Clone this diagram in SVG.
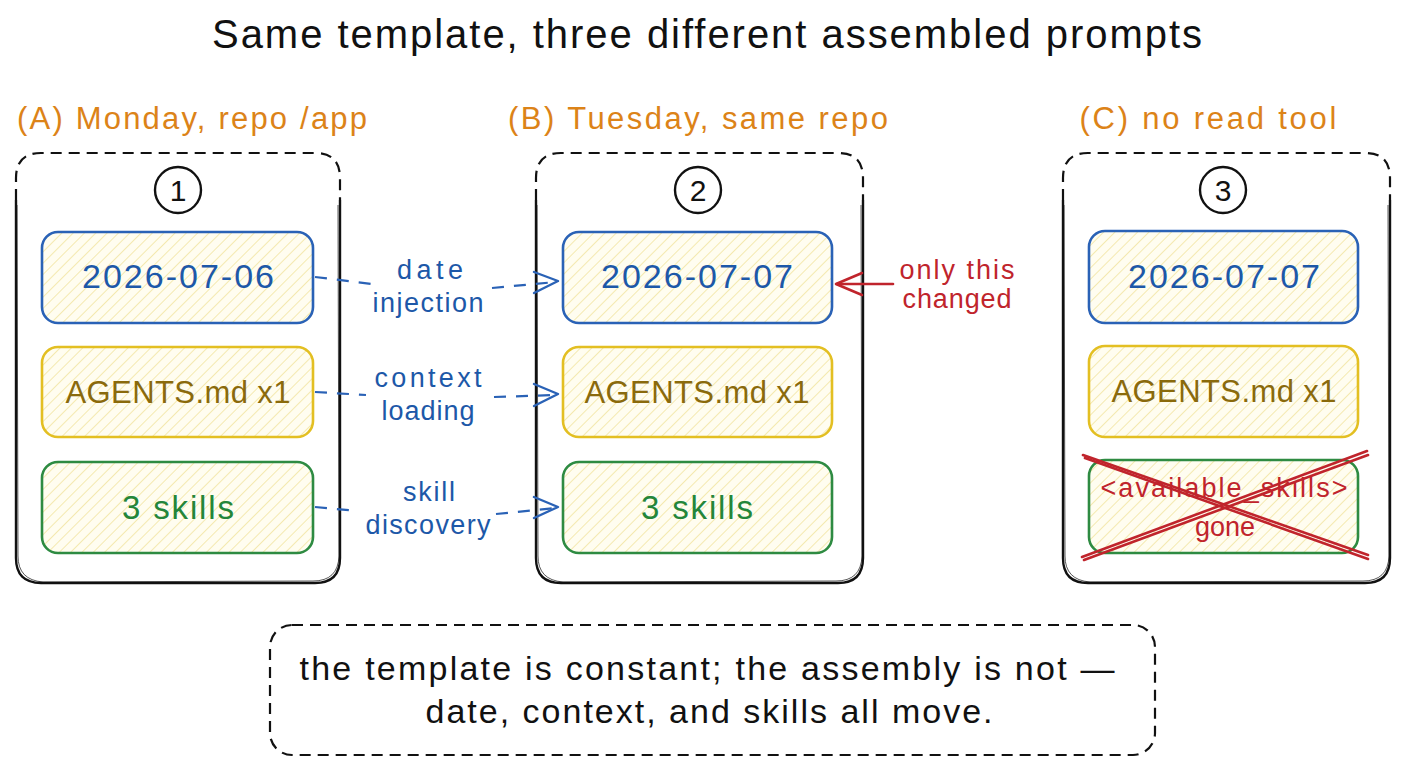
<svg xmlns="http://www.w3.org/2000/svg" width="1408" height="768" viewBox="0 0 1408 768">
<style>
.hand{font-family:"Liberation Sans","DejaVu Sans",sans-serif;}
.title{font-size:40px;fill:#111;}
.hdr{font-size:31px;fill:#dc8318;}
.num{font-size:30px;fill:#111;}
.date{font-size:34px;fill:#1d58a8;}
.agents{font-size:31px;fill:#8a6a0c;}
.skills{font-size:33px;fill:#24863a;}
.conn{font-size:27px;fill:#1d58a8;}
.red{font-size:27px;fill:#c0242c;}
.note{font-size:34px;fill:#111;}
.dash{fill:none;stroke:#111;stroke-width:2.2;stroke-dasharray:11 7;}
.solid{fill:none;stroke:#111;stroke-width:2.4;}
.solid2{fill:none;stroke:#111;stroke-width:1;opacity:.7;}
.bbox{stroke:#2a62b6;stroke-width:2.6;fill:url(#hatch);}
.ybox{stroke:#e3bf22;stroke-width:2.6;fill:url(#hatch);}
.gbox{stroke:#2e8b42;stroke-width:2.6;fill:url(#hatch);}
.edge{fill:none;stroke:#2a62b6;stroke-width:2.2;stroke-dasharray:12 10;}
.head{fill:none;stroke:#2a62b6;stroke-width:2.4;stroke-linecap:round;stroke-linejoin:round;}
.rline{fill:none;stroke:#c0242c;stroke-width:2.6;stroke-linecap:round;stroke-linejoin:round;}
.circ{fill:#fff;stroke:#111;stroke-width:2.4;}
</style>
<defs>
<pattern id="hatch" width="8" height="8" patternUnits="userSpaceOnUse" patternTransform="rotate(45)">
<rect width="8" height="8" fill="#fffdf0"/>
<line x1="0" y1="0" x2="0" y2="8" stroke="#f2e4a0" stroke-width="1.6"/>
</pattern>
</defs>
<rect width="1408" height="768" fill="#fff"/>

<text class="hand title" x="707" y="48" text-anchor="middle" textLength="990">Same template, three different assembled prompts</text>

<g id="panel-a">
<text class="hand hdr" x="192" y="129" text-anchor="middle" textLength="350">(A) Monday, repo /app</text>
<path class="dash" d="M16,200 L16,178 Q16,153 41,153 L315,153 Q340,153 340,178 L340,200"/>
<path class="solid" d="M340,200 L340,558 Q340,583 315,583 L41,583 Q16,583 16,558 L16,200"/>
<path class="solid2" d="M338,205 L339,556 Q338,581 313,581 L43,582 Q18,580 18,556 L17,205"/>
<circle class="circ" cx="178" cy="190" r="23"/>
<text class="hand num" x="178" y="201" text-anchor="middle">1</text>
</g>
<g id="a-date"><rect class="bbox" x="42" y="232" width="271" height="91" rx="16"/><text class="hand date" x="178" y="288" text-anchor="middle" textLength="192">2026-07-06</text></g>
<g id="a-agents"><rect class="ybox" x="42" y="347" width="271" height="90" rx="16"/><text class="hand agents" x="178" y="403" text-anchor="middle" textLength="225">AGENTS.md x1</text></g>
<g id="a-skills"><rect class="gbox" x="42" y="462" width="271" height="91" rx="16"/><text class="hand skills" x="178" y="519" text-anchor="middle" textLength="112">3 skills</text></g>

<g id="panel-b">
<text class="hand hdr" x="698" y="129" text-anchor="middle" textLength="380">(B) Tuesday, same repo</text>
<path class="dash" d="M536,200 L536,178 Q536,153 561,153 L838,153 Q863,153 863,178 L863,200"/>
<path class="solid" d="M863,200 L863,558 Q863,583 838,583 L561,583 Q536,583 536,558 L536,200"/>
<path class="solid2" d="M861,205 L862,556 Q861,581 836,581 L563,582 Q538,580 538,556 L537,205"/>
<circle class="circ" cx="698" cy="190" r="23"/>
<text class="hand num" x="698" y="201" text-anchor="middle">2</text>
</g>
<g id="b-date"><rect class="bbox" x="563" y="232" width="269" height="91" rx="16"/><text class="hand date" x="697" y="288" text-anchor="middle" textLength="192">2026-07-07</text></g>
<g id="b-agents"><rect class="ybox" x="563" y="347" width="269" height="90" rx="16"/><text class="hand agents" x="697" y="403" text-anchor="middle" textLength="225">AGENTS.md x1</text></g>
<g id="b-skills"><rect class="gbox" x="563" y="462" width="269" height="91" rx="16"/><text class="hand skills" x="697" y="519" text-anchor="middle" textLength="112">3 skills</text></g>

<g id="panel-c">
<text class="hand hdr" x="1208" y="129" text-anchor="middle" textLength="257">(C) no read tool</text>
<path class="dash" d="M1063,200 L1063,178 Q1063,153 1088,153 L1365,153 Q1390,153 1390,178 L1390,200"/>
<path class="solid" d="M1390,200 L1390,558 Q1390,583 1365,583 L1088,583 Q1063,583 1063,558 L1063,200"/>
<path class="solid2" d="M1388,205 L1389,556 Q1388,581 1363,581 L1090,582 Q1065,580 1065,556 L1064,205"/>
<circle class="circ" cx="1223" cy="190" r="23"/>
<text class="hand num" x="1223" y="201" text-anchor="middle">3</text>
</g>
<g id="c-date"><rect class="bbox" x="1089" y="231" width="269" height="92" rx="16"/><text class="hand date" x="1224" y="288" text-anchor="middle" textLength="192">2026-07-07</text></g>
<g id="c-agents"><rect class="ybox" x="1089" y="346" width="269" height="91" rx="16"/><text class="hand agents" x="1224" y="402" text-anchor="middle" textLength="225">AGENTS.md x1</text></g>
<g id="c-skills">
<rect class="gbox" x="1089" y="460" width="269" height="93" rx="16"/>
<text class="hand red" x="1224" y="497" text-anchor="middle" textLength="247">&lt;available_skills&gt;</text>
<text class="hand red" x="1225" y="536" text-anchor="middle" textLength="60">gone</text>
<line class="rline" x1="1083" y1="455" x2="1368" y2="555"/>
<line class="rline" x1="1085" y1="458" x2="1368" y2="559" stroke-width="1.4"/>
<line class="rline" x1="1367" y1="451" x2="1082" y2="557"/>
<line class="rline" x1="1368" y1="455" x2="1084" y2="560" stroke-width="1.4"/>
</g>

<g id="connectors">
<path class="edge" d="M315,277 L372,284"/>
<path class="edge" d="M492,288 L556,282"/>
<path class="head" d="M534,272 L558,281 L534,293"/>
<text class="hand conn" x="430" y="279" text-anchor="middle" textLength="66">date</text>
<text class="hand conn" x="428" y="312" text-anchor="middle" textLength="111">injection</text>

<path class="edge" d="M315,392 L366,395"/>
<path class="edge" d="M494,397 L556,395"/>
<path class="head" d="M534,384 L558,394 L534,406"/>
<text class="hand conn" x="428" y="387" text-anchor="middle" textLength="107">context</text>
<text class="hand conn" x="428" y="420" text-anchor="middle" textLength="93">loading</text>

<path class="edge" d="M315,507 L358,511"/>
<path class="edge" d="M496,514 L556,508"/>
<path class="head" d="M534,497 L558,507 L534,518"/>
<text class="hand conn" x="429" y="501" text-anchor="middle" textLength="52">skill</text>
<text class="hand conn" x="428" y="534" text-anchor="middle" textLength="125">discovery</text>

<path class="rline" d="M893,284 L837,284"/>
<path class="rline" d="M862,273 L836,284 L862,295"/>
<text class="hand red" x="957" y="279" text-anchor="middle" textLength="115">only this</text>
<text class="hand red" x="957" y="308" text-anchor="middle" textLength="109">changed</text>
</g>

<g id="note">
<rect class="dash" x="270" y="625" width="885" height="130" rx="22"/>
<text class="hand note" x="707" y="680" text-anchor="middle" textLength="815">the template is constant; the assembly is not —</text>
<text class="hand note" x="709" y="723" text-anchor="middle" textLength="567">date, context, and skills all move.</text>
</g>
</svg>
